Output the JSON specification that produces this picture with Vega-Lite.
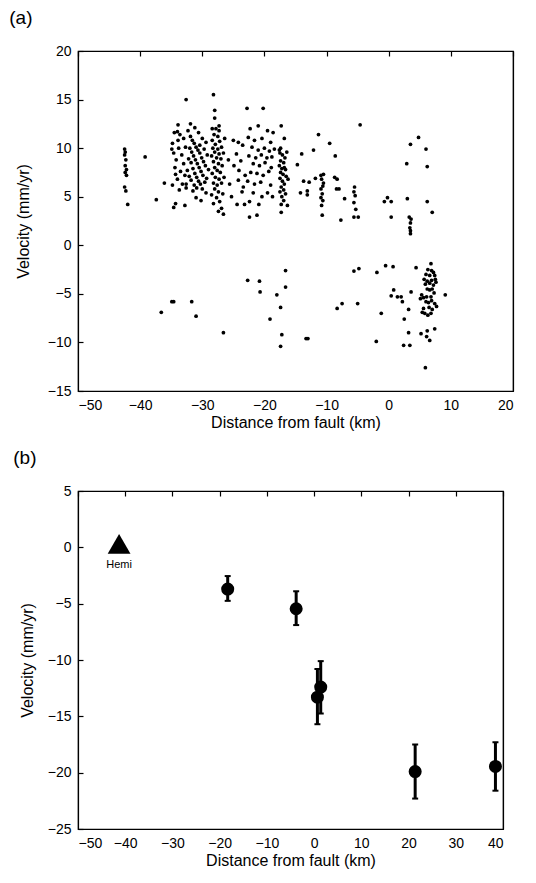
{
  "$schema": "https://vega.github.io/schema/vega-lite/v6.json",
  "padding": {"left": 8, "top": 8, "right": 5, "bottom": 5},
  "config": {
    "font": "Liberation Sans",
    "view": {"stroke": "black", "strokeWidth": 1.2},
    "axis": {"domainColor": "black", "labelColor": "black", "titleColor": "black", "labelFontSize": 14, "titleFontSize": 16, "titleFontWeight": "normal", "ticks": false, "grid": true, "gridColor": "black", "gridOpacity": 1, "gridWidth": 1.2, "gridDash": [5, 2000], "domainWidth": 1.2, "labelPadding": 7},
    "axisX": {"titlePadding": 2},
    "axisY": {"titlePadding": 16},
    "title": {"fontSize": 19, "fontWeight": "normal", "anchor": "start", "color": "black", "offset": 16}
  },
  "datasets": {
    "a": [
      {"d": -42.5, "v": 9.9}, {"d": -42.4, "v": 9.6}, {"d": -42.5, "v": 9.3}, {"d": -42.3, "v": 8.8}, {"d": -42.4, "v": 8.2}, {"d": -42.2, "v": 7.8}, {"d": -42.4, "v": 7.5}, {"d": -42.2, "v": 7.2}, {"d": -42.5, "v": 6.0}, {"d": -42.3, "v": 5.6}, {"d": -42.0, "v": 4.2},
      {"d": -39.2, "v": 9.1}, {"d": -37.4, "v": 4.7}, {"d": -36.1, "v": 6.4}, {"d": -34.6, "v": 3.9}, {"d": -34.3, "v": 4.3}, {"d": -32.8, "v": 4.1}, {"d": -32.6, "v": 15.0}, {"d": -28.2, "v": 15.5}, {"d": -28.0, "v": 13.9}, {"d": -28.0, "v": 13.1}, {"d": -26.6, "v": 3.2}, {"d": -22.8, "v": 14.1}, {"d": -20.2, "v": 14.1}, {"d": -22.4, "v": 2.9}, {"d": -21.2, "v": 3.1}, {"d": -31.9, "v": 12.5}, {"d": -33.9, "v": 12.4}, {"d": -27.3, "v": 12.3},
      {"d": -34.5, "v": 11.6}, {"d": -34.0, "v": 11.7}, {"d": -33.6, "v": 11.4}, {"d": -34.8, "v": 10.5}, {"d": -33.8, "v": 10.0}, {"d": -34.6, "v": 9.5}, {"d": -33.3, "v": 9.3}, {"d": -34.2, "v": 8.8}, {"d": -33.0, "v": 8.4}, {"d": -34.4, "v": 8.0}, {"d": -33.5, "v": 7.6}, {"d": -32.8, "v": 7.2}, {"d": -34.0, "v": 6.8}, {"d": -33.2, "v": 6.3}, {"d": -32.6, "v": 5.9}, {"d": -34.9, "v": 9.9}, {"d": -33.9, "v": 10.8}, {"d": -33.0, "v": 11.0}, {"d": -32.7, "v": 10.1}, {"d": -34.3, "v": 7.3}, {"d": -33.7, "v": 5.7}, {"d": -34.8, "v": 6.2},
      {"d": -32.3, "v": 11.8}, {"d": -31.9, "v": 11.2}, {"d": -31.6, "v": 10.8}, {"d": -31.3, "v": 10.5}, {"d": -31.0, "v": 10.1}, {"d": -30.7, "v": 9.8}, {"d": -30.4, "v": 9.5}, {"d": -30.1, "v": 9.0}, {"d": -29.8, "v": 8.6}, {"d": -29.5, "v": 8.2}, {"d": -32.0, "v": 10.0}, {"d": -31.7, "v": 9.6}, {"d": -31.4, "v": 9.2}, {"d": -31.1, "v": 8.8}, {"d": -30.8, "v": 8.4}, {"d": -30.5, "v": 8.0}, {"d": -30.2, "v": 7.6}, {"d": -29.9, "v": 7.2}, {"d": -32.2, "v": 8.9}, {"d": -31.8, "v": 8.5}, {"d": -31.5, "v": 7.9}, {"d": -31.2, "v": 7.4}, {"d": -30.9, "v": 7.0}, {"d": -30.6, "v": 6.6}, {"d": -30.3, "v": 6.3}, {"d": -29.6, "v": 6.5}, {"d": -29.3, "v": 6.9}, {"d": -31.8, "v": 6.7}, {"d": -31.3, "v": 6.2}, {"d": -30.9, "v": 5.9}, {"d": -32.4, "v": 7.7}, {"d": -32.1, "v": 7.1}, {"d": -29.7, "v": 9.9}, {"d": -29.4, "v": 10.6}, {"d": -30.0, "v": 11.0}, {"d": -30.6, "v": 11.6}, {"d": -31.2, "v": 12.1}, {"d": -29.2, "v": 9.3}, {"d": -29.0, "v": 7.8}, {"d": -30.4, "v": 10.3}, {"d": -31.5, "v": 5.6}, {"d": -30.0, "v": 5.8}, {"d": -29.4, "v": 5.4}, {"d": -32.6, "v": 6.3}, {"d": -31.0, "v": 4.9}, {"d": -30.2, "v": 4.6},
      {"d": -28.4, "v": 12.0}, {"d": -27.8, "v": 12.0}, {"d": -27.3, "v": 11.8}, {"d": -28.1, "v": 11.4}, {"d": -27.5, "v": 11.2}, {"d": -28.4, "v": 10.8}, {"d": -27.2, "v": 10.7}, {"d": -27.9, "v": 10.4}, {"d": -28.3, "v": 10.0}, {"d": -27.5, "v": 9.9}, {"d": -26.9, "v": 10.1}, {"d": -28.0, "v": 9.6}, {"d": -27.3, "v": 9.4}, {"d": -28.5, "v": 9.2}, {"d": -27.7, "v": 9.0}, {"d": -27.0, "v": 8.9}, {"d": -28.2, "v": 8.6}, {"d": -27.4, "v": 8.4}, {"d": -26.8, "v": 8.2}, {"d": -28.0, "v": 8.0}, {"d": -27.6, "v": 7.7}, {"d": -28.4, "v": 7.4}, {"d": -27.1, "v": 7.5}, {"d": -27.9, "v": 7.0}, {"d": -27.3, "v": 6.8}, {"d": -28.2, "v": 6.4}, {"d": -27.6, "v": 6.2}, {"d": -26.9, "v": 6.4}, {"d": -28.0, "v": 5.8}, {"d": -27.4, "v": 5.5}, {"d": -28.5, "v": 5.2}, {"d": -27.7, "v": 4.9}, {"d": -26.7, "v": 5.3}, {"d": -27.2, "v": 4.5}, {"d": -28.2, "v": 4.3}, {"d": -26.9, "v": 3.8}, {"d": -27.4, "v": 3.5}, {"d": -26.5, "v": 7.0}, {"d": -26.6, "v": 9.5}, {"d": -26.4, "v": 11.0},
      {"d": -25.0, "v": 10.8}, {"d": -24.2, "v": 10.6}, {"d": -23.5, "v": 10.3}, {"d": -24.5, "v": 9.4}, {"d": -23.8, "v": 8.7}, {"d": -24.9, "v": 8.2}, {"d": -24.1, "v": 7.7}, {"d": -23.1, "v": 7.2}, {"d": -24.2, "v": 6.7}, {"d": -23.4, "v": 6.0}, {"d": -23.6, "v": 5.5}, {"d": -24.4, "v": 4.2}, {"d": -23.2, "v": 4.2}, {"d": -25.6, "v": 6.3}, {"d": -25.8, "v": 8.8}, {"d": -25.3, "v": 5.0},
      {"d": -22.3, "v": 12.0}, {"d": -21.0, "v": 12.3}, {"d": -19.5, "v": 11.8}, {"d": -18.6, "v": 11.6}, {"d": -22.6, "v": 11.1}, {"d": -21.6, "v": 10.8}, {"d": -20.4, "v": 11.0}, {"d": -19.0, "v": 10.6}, {"d": -22.0, "v": 10.1}, {"d": -21.0, "v": 9.8}, {"d": -20.0, "v": 10.0}, {"d": -19.2, "v": 9.7}, {"d": -18.4, "v": 9.9}, {"d": -22.5, "v": 9.2}, {"d": -21.4, "v": 9.0}, {"d": -20.5, "v": 9.3}, {"d": -19.6, "v": 9.0}, {"d": -18.8, "v": 9.1}, {"d": -21.8, "v": 8.4}, {"d": -20.8, "v": 8.2}, {"d": -19.9, "v": 8.5}, {"d": -18.9, "v": 8.0}, {"d": -22.2, "v": 7.5}, {"d": -21.2, "v": 7.4}, {"d": -20.2, "v": 7.2}, {"d": -19.3, "v": 7.6}, {"d": -22.7, "v": 6.6}, {"d": -21.6, "v": 6.3}, {"d": -20.6, "v": 6.5}, {"d": -19.0, "v": 6.2}, {"d": -21.8, "v": 5.4}, {"d": -20.4, "v": 5.0}, {"d": -19.5, "v": 5.4}, {"d": -18.7, "v": 5.0}, {"d": -22.4, "v": 4.5}, {"d": -20.9, "v": 4.2},
      {"d": -17.3, "v": 12.3}, {"d": -16.8, "v": 11.0}, {"d": -17.4, "v": 10.0}, {"d": -17.5, "v": 9.5}, {"d": -17.1, "v": 9.3}, {"d": -16.7, "v": 9.0}, {"d": -17.4, "v": 8.7}, {"d": -16.9, "v": 8.5}, {"d": -17.6, "v": 8.2}, {"d": -17.2, "v": 7.9}, {"d": -16.6, "v": 7.8}, {"d": -17.4, "v": 7.5}, {"d": -17.0, "v": 7.3}, {"d": -16.5, "v": 7.1}, {"d": -17.5, "v": 6.9}, {"d": -17.1, "v": 6.6}, {"d": -16.8, "v": 6.3}, {"d": -17.3, "v": 6.0}, {"d": -16.9, "v": 5.7}, {"d": -17.5, "v": 5.5}, {"d": -16.6, "v": 5.3}, {"d": -17.2, "v": 5.0}, {"d": -16.9, "v": 4.6}, {"d": -17.3, "v": 4.2}, {"d": -16.3, "v": 4.1}, {"d": -17.3, "v": 3.4}, {"d": -16.8, "v": 8.0}, {"d": -17.6, "v": 9.8}, {"d": -16.4, "v": 9.6}, {"d": -16.2, "v": 6.8},
      {"d": -14.0, "v": 9.4}, {"d": -14.7, "v": 8.3}, {"d": -12.1, "v": 9.8}, {"d": -11.3, "v": 11.4}, {"d": -9.5, "v": 10.5}, {"d": -8.6, "v": 9.2}, {"d": -13.7, "v": 6.6}, {"d": -12.8, "v": 6.5}, {"d": -11.8, "v": 6.9}, {"d": -14.2, "v": 5.4}, {"d": -13.1, "v": 5.6}, {"d": -13.1, "v": 5.2},
      {"d": -10.9, "v": 7.2}, {"d": -10.5, "v": 7.3}, {"d": -10.8, "v": 6.8}, {"d": -10.6, "v": 6.1}, {"d": -10.9, "v": 5.8}, {"d": -10.7, "v": 5.3}, {"d": -10.6, "v": 4.6}, {"d": -10.8, "v": 4.1}, {"d": -10.7, "v": 3.1}, {"d": -10.5, "v": 6.4}, {"d": -10.9, "v": 4.9},
      {"d": -8.7, "v": 7.0}, {"d": -8.3, "v": 6.8}, {"d": -8.4, "v": 5.8}, {"d": -8.0, "v": 5.8}, {"d": -7.1, "v": 4.8}, {"d": -7.7, "v": 2.6},
      {"d": -5.5, "v": 6.0}, {"d": -5.6, "v": 5.5}, {"d": -5.4, "v": 5.1}, {"d": -5.6, "v": 4.4}, {"d": -5.3, "v": 3.7}, {"d": -5.6, "v": 2.9}, {"d": -4.9, "v": 2.9},
      {"d": -4.6, "v": 12.4}, {"d": -0.7, "v": 4.5}, {"d": -0.2, "v": 4.9}, {"d": 0.4, "v": 4.5}, {"d": 0.4, "v": 2.9}, {"d": 2.9, "v": 8.4}, {"d": 3.0, "v": 4.8}, {"d": 3.5, "v": 10.4}, {"d": 4.8, "v": 11.1}, {"d": 6.0, "v": 9.9}, {"d": 6.2, "v": 8.1}, {"d": 6.2, "v": 4.5}, {"d": 7.0, "v": 3.4},
      {"d": 3.3, "v": 2.9}, {"d": 3.6, "v": 2.7}, {"d": 3.5, "v": 2.3}, {"d": 3.4, "v": 1.8}, {"d": 3.5, "v": 1.5}, {"d": 3.5, "v": 1.2},
      {"d": -36.6, "v": -6.9}, {"d": -34.9, "v": -5.8}, {"d": -34.6, "v": -5.8}, {"d": -31.7, "v": -5.8}, {"d": -31.0, "v": -7.3}, {"d": -26.6, "v": -9.0}, {"d": -22.7, "v": -3.6}, {"d": -20.8, "v": -3.7}, {"d": -20.7, "v": -4.8}, {"d": -18.0, "v": -5.1}, {"d": -17.4, "v": -6.4}, {"d": -19.1, "v": -7.6}, {"d": -16.6, "v": -2.6}, {"d": -16.6, "v": -4.3}, {"d": -17.2, "v": -9.2}, {"d": -17.4, "v": -10.4},
      {"d": -13.3, "v": -9.6}, {"d": -13.0, "v": -9.6}, {"d": -8.3, "v": -6.5}, {"d": -7.5, "v": -6.0}, {"d": -5.6, "v": -2.65}, {"d": -4.8, "v": -2.4}, {"d": -5.0, "v": -6.0}, {"d": -1.9, "v": -2.8}, {"d": -1.2, "v": -7.0}, {"d": -2.0, "v": -9.9}, {"d": -0.5, "v": -2.1}, {"d": 0.7, "v": -2.2}, {"d": 0.8, "v": -4.6}, {"d": 0.4, "v": -5.2}, {"d": 1.4, "v": -5.3}, {"d": 2.0, "v": -5.3}, {"d": 2.2, "v": -5.8}, {"d": 3.2, "v": -6.6}, {"d": 2.5, "v": -7.6}, {"d": 3.6, "v": -4.8}, {"d": 2.4, "v": -10.3}, {"d": 3.4, "v": -10.3}, {"d": 3.2, "v": -9.0}, {"d": 4.4, "v": -2.3}, {"d": 5.2, "v": -9.1}, {"d": 6.2, "v": -8.8}, {"d": 6.1, "v": -9.4}, {"d": 6.6, "v": -9.8}, {"d": 7.4, "v": -8.6}, {"d": 5.9, "v": -12.6}, {"d": 9.1, "v": -5.1},
      {"d": 6.8, "v": -1.9}, {"d": 6.3, "v": -2.5}, {"d": 6.9, "v": -2.6}, {"d": 7.2, "v": -2.8}, {"d": 6.0, "v": -3.0}, {"d": 6.6, "v": -3.1}, {"d": 7.4, "v": -3.1}, {"d": 5.7, "v": -3.5}, {"d": 6.2, "v": -3.7}, {"d": 6.9, "v": -3.6}, {"d": 7.5, "v": -3.5}, {"d": 6.6, "v": -3.9}, {"d": 7.2, "v": -4.1}, {"d": 6.2, "v": -4.5}, {"d": 6.6, "v": -4.6}, {"d": 7.0, "v": -4.5}, {"d": 5.3, "v": -5.1}, {"d": 5.6, "v": -5.4}, {"d": 6.1, "v": -5.3}, {"d": 6.8, "v": -5.3}, {"d": 6.0, "v": -5.8}, {"d": 6.9, "v": -5.7}, {"d": 7.4, "v": -6.0}, {"d": 7.7, "v": -6.3}, {"d": 6.5, "v": -6.4}, {"d": 7.0, "v": -6.6}, {"d": 5.4, "v": -6.9}, {"d": 5.8, "v": -7.0}, {"d": 6.3, "v": -7.2}, {"d": 6.8, "v": -7.0}, {"d": 5.6, "v": -6.5}, {"d": 7.3, "v": -4.9}, {"d": 5.9, "v": -4.0}, {"d": 7.6, "v": -3.8}, {"d": 6.4, "v": -5.9}, {"d": 5.1, "v": -5.5}
    ],
    "b": [
      {"d": -18.3, "v": -3.7, "lo": -4.75, "hi": -2.55},
      {"d": -3.8, "v": -5.45, "lo": -6.9, "hi": -3.9},
      {"d": 0.7, "v": -13.3, "lo": -15.7, "hi": -10.8},
      {"d": 1.4, "v": -12.4, "lo": -14.75, "hi": -10.1},
      {"d": 21.4, "v": -19.9, "lo": -22.3, "hi": -17.5},
      {"d": 38.4, "v": -19.45, "lo": -21.6, "hi": -17.3}
    ],
    "hemi": [
      {"d": -41.3, "v": 0.3, "label": "Hemi", "lv": -1.6}
    ]
  },
  "concat": [
    {
      "title": {"text": "(a)", "dx": -6},
      "width": 435,
      "height": 340,
      "data": {"name": "a"},
      "layer": [
        {
          "mark": {"type": "circle", "size": 14, "color": "black", "opacity": 1},
          "encoding": {
            "x": {"field": "d", "type": "quantitative", "scale": {"domain": [-50, 20], "nice": false, "zero": false}, "axis": {"orient": "bottom", "title": "Distance from fault (km)", "values": [-50, -40, -30, -20, -10, 0, 10, 20]}},
            "y": {"field": "v", "type": "quantitative", "scale": {"domain": [-15, 20], "nice": false, "zero": false}, "axis": {"orient": "left", "title": "Velocity (mm/yr)", "values": [-15, -10, -5, 0, 5, 10, 15, 20]}}
          }
        },
        {
          "mark": {"type": "rule", "opacity": 0},
          "encoding": {
            "x": {"field": "d", "type": "quantitative", "axis": {"title": null, "labels": false, "values": [-50, -40, -30, -20, -10, 0, 10, 20]}},
            "y": {"field": "v", "type": "quantitative", "axis": {"title": null, "labels": false, "values": [-15, -10, -5, 0, 5, 10, 15, 20]}}
          }
        }
      ],
      "resolve": {"axis": {"x": "independent", "y": "independent"}}
    },
    {
      "title": {"text": "(b)", "dx": -6},
      "width": 425,
      "height": 338,
      "layer": [
        {
          "data": {"name": "b"},
          "mark": {"type": "rule", "strokeWidth": 3, "color": "black"},
          "encoding": {
            "x": {"field": "d", "type": "quantitative", "scale": {"domain": [-50, 40], "nice": false, "zero": false}, "axis": {"orient": "bottom", "title": "Distance from fault (km)", "values": [-50, -40, -30, -20, -10, 0, 10, 20, 30, 40]}},
            "y": {"field": "lo", "type": "quantitative", "scale": {"domain": [-25, 5], "nice": false, "zero": false}, "axis": {"orient": "left", "title": "Velocity (mm/yr)", "values": [-25, -20, -15, -10, -5, 0, 5], "titlePadding": 12}},
            "y2": {"field": "hi"}
          }
        },
        {
          "data": {"name": "b"},
          "mark": {"type": "rule", "opacity": 0},
          "encoding": {
            "x": {"field": "d", "type": "quantitative", "axis": {"title": null, "labels": false, "values": [-50, -40, -30, -20, -10, 0, 10, 20, 30, 40]}},
            "y": {"field": "v", "type": "quantitative", "axis": {"title": null, "labels": false, "values": [-25, -20, -15, -10, -5, 0, 5]}}
          }
        },
        {
          "data": {"name": "b"},
          "mark": {"type": "tick", "orient": "horizontal", "size": 6, "thickness": 2, "color": "black", "opacity": 1},
          "encoding": {
            "x": {"field": "d", "type": "quantitative", "axis": null},
            "y": {"field": "lo", "type": "quantitative", "axis": null}
          }
        },
        {
          "data": {"name": "b"},
          "mark": {"type": "tick", "orient": "horizontal", "size": 6, "thickness": 2, "color": "black", "opacity": 1},
          "encoding": {
            "x": {"field": "d", "type": "quantitative", "axis": null},
            "y": {"field": "hi", "type": "quantitative", "axis": null}
          }
        },
        {
          "data": {"name": "b"},
          "mark": {"type": "circle", "size": 170, "color": "black", "opacity": 1},
          "encoding": {
            "x": {"field": "d", "type": "quantitative", "axis": null},
            "y": {"field": "v", "type": "quantitative", "axis": null}
          }
        },
        {
          "data": {"name": "hemi"},
          "mark": {"type": "point", "shape": "triangle-up", "size": 520, "filled": true, "color": "black", "opacity": 1},
          "encoding": {
            "x": {"field": "d", "type": "quantitative", "axis": null},
            "y": {"field": "v", "type": "quantitative", "axis": null}
          }
        },
        {
          "data": {"name": "hemi"},
          "mark": {"type": "text", "fontSize": 11, "color": "black", "font": "Liberation Sans"},
          "encoding": {
            "x": {"field": "d", "type": "quantitative", "axis": null},
            "y": {"field": "lv", "type": "quantitative", "axis": null},
            "text": {"field": "label"}
          }
        }
      ],
      "resolve": {"axis": {"x": "independent", "y": "independent"}}
    }
  ],
  "columns": 1,
  "align": "none",
  "spacing": 17
}
